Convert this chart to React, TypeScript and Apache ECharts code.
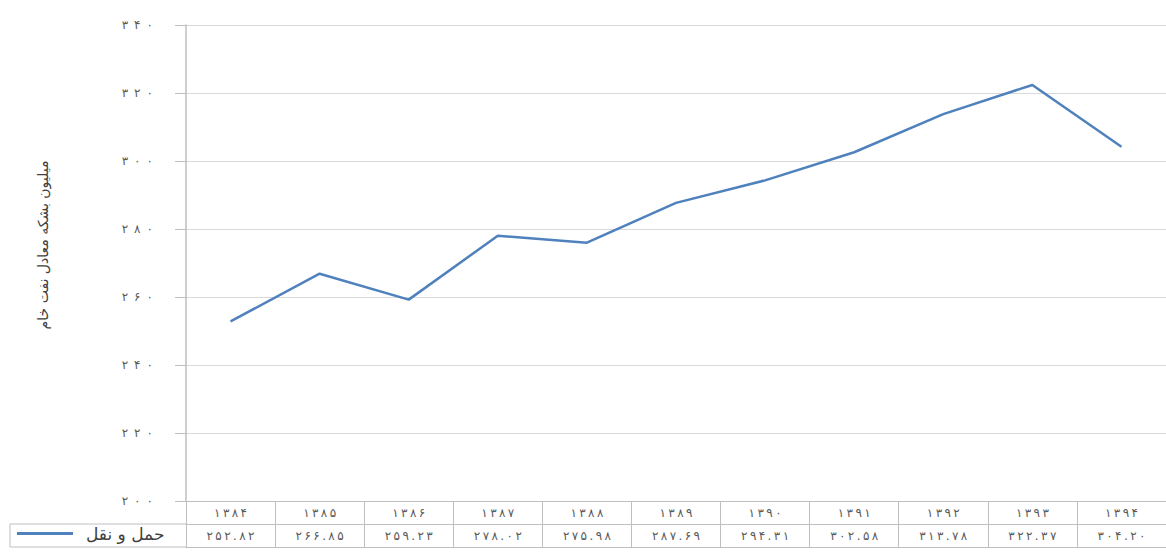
import React, { useEffect, useRef } from "react";
import * as echarts from "echarts";

const years = ["1384", "1385", "1386", "1387", "1388", "1389", "1390", "1391", "1392", "1393", "1394"];
const transport = [252.82, 266.85, 259.23, 278.02, 275.98, 287.69, 294.31, 302.58, 313.78, 322.37, 304.2];
const seriesName = "حمل و نقل";
const yTitle = "میلیون بشکه معادل نفت خام";
const yMin = 200;
const yMax = 340;
const yStep = 20;

const faDigits = "۰۱۲۳۴۵۶۷۸۹";
const toFa = (s: string) => s.replace(/[0-9]/g, (d) => faDigits[+d]);
const spaced = (s: string, sep: string) => s.split("").join(sep);

const FONT = "DejaVu Sans";
const GRAY_TEXT = "#595959";
const BORDER = "#bfbfbf";
const BLUE = "#4F81BD";

export default function App() {
  const ref = useRef<HTMLDivElement>(null);
  useEffect(() => {
    document.body.style.margin = "0";
    const chart = echarts.init(ref.current!, null, { renderer: "svg" });
    const gridLeft = 186;
    const gridTop = 25;
    const gridHeight = 476;
    const gridWidth = 988;
    chart.setOption({
      animation: false,
      textStyle: { fontFamily: FONT },
      grid: { left: gridLeft, top: gridTop, width: gridWidth, height: gridHeight, containLabel: false },
      legend: {
        left: 17,
        top: 525,
        padding: 0,
        icon: "rect",
        itemWidth: 56,
        itemHeight: 3,
        itemGap: 6,
        data: [seriesName],
        textStyle: { fontFamily: FONT, fontSize: 17, color: "#404040", padding: [0, 0, 0, 8] },
      },
      xAxis: [
        {
          type: "category",
          data: years,
          position: "bottom",
          boundaryGap: true,
          axisLine: { show: true, lineStyle: { color: BORDER, width: 1 } },
          axisTick: { show: true, length: 46, lineStyle: { color: BORDER } },
          axisLabel: { formatter: (v: string) => spaced(toFa(v), "\u2009"), fontSize: 12, color: GRAY_TEXT, margin: 6, fontFamily: FONT },
          splitLine: { show: false },
        },
        {
          type: "category",
          data: years,
          position: "bottom",
          offset: 23,
          boundaryGap: true,
          axisLine: { show: true, lineStyle: { color: BORDER, width: 1 } },
          axisTick: { show: false },
          axisLabel: {
            formatter: (_v: string, i: number) => spaced(toFa(transport[i].toFixed(2)), "\u2009"),
            fontSize: 12,
            color: GRAY_TEXT,
            margin: 6,
            fontFamily: FONT,
          },
          splitLine: { show: false },
        },
        {
          type: "category",
          data: years,
          position: "bottom",
          offset: 46,
          boundaryGap: true,
          axisLine: { show: true, lineStyle: { color: BORDER, width: 1 } },
          axisTick: { show: false },
          axisLabel: { show: false },
          splitLine: { show: false },
        },
      ],
      yAxis: {
        type: "value",
        min: yMin,
        max: yMax,
        interval: yStep,
        axisLine: { show: true, lineStyle: { color: BORDER, width: 1.5 } },
        axisTick: { show: true, length: 11, lineStyle: { color: BORDER } },
        axisLabel: {
          formatter: (v: number) => spaced(toFa(String(v)), "\u2002"),
          fontSize: 12,
          color: GRAY_TEXT,
          margin: 33,
          fontFamily: FONT,
        },
        splitLine: { show: true, lineStyle: { color: "#d9d9d9", width: 1 } },
      },
      graphic: [
        {
          type: "text",
          x: 43,
          y: 245,
          rotation: Math.PI / 2,
          style: {
            text: yTitle,
            fontFamily: FONT,
            fontSize: 14,
            fill: "#404040",
            align: "center",
            verticalAlign: "middle",
          },
        },
        { type: "line", shape: { x1: 10, y1: 524, x2: gridLeft, y2: 524 }, style: { stroke: BORDER, lineWidth: 1 } },
        { type: "line", shape: { x1: 10, y1: 547, x2: gridLeft, y2: 547 }, style: { stroke: BORDER, lineWidth: 1 } },
        { type: "line", shape: { x1: 10, y1: 524, x2: 10, y2: 547 }, style: { stroke: BORDER, lineWidth: 1 } },
      ],
      series: [
        {
          name: seriesName,
          type: "line",
          data: transport,
          xAxisIndex: 0,
          symbol: "none",
          lineStyle: { color: BLUE, width: 2.5 },
          itemStyle: { color: BLUE },
        },
      ],
    });
    return () => chart.dispose();
  }, []);
  return <div ref={ref} style={{ width: 1166, height: 560 }} />;
}
